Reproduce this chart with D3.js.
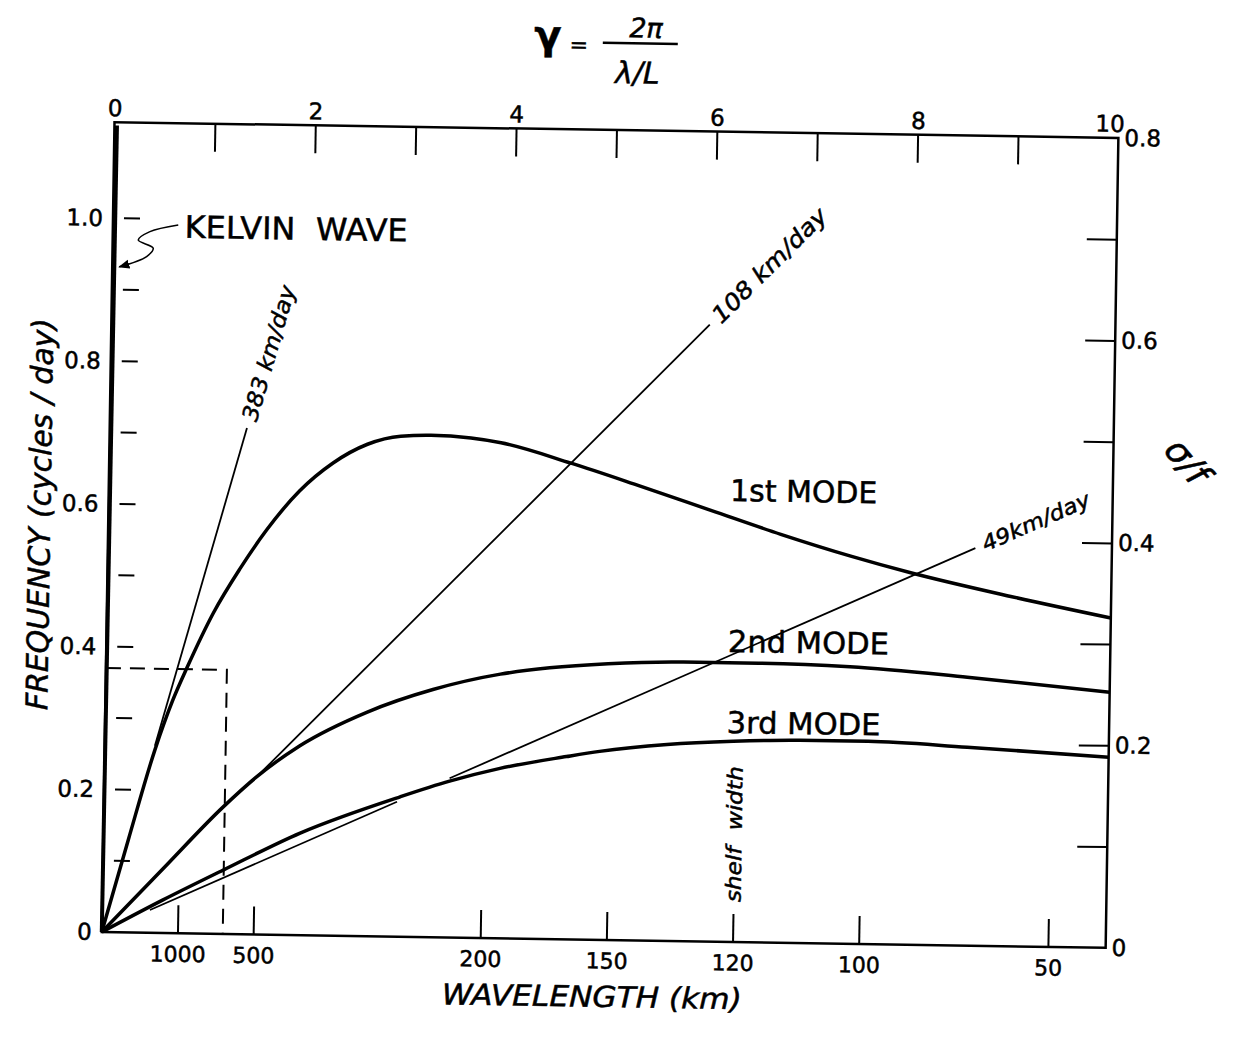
<!DOCTYPE html>
<html>
<head>
<meta charset="utf-8">
<script src="https://cdn.jsdelivr.net/npm/d3@7"></script>
<style>
  body { margin: 0; background: #fff; }
  text { font-family: "DejaVu Sans", sans-serif; fill: #000; stroke: #000; stroke-width: 0.5px; }
</style>
</head>
<body>
<div id="chart"></div>
<script>
// ---- data (gamma = 2pi/(lambda/L), frequency in cycles/day) ----
const gammaTicks = [1, 2, 3, 4, 5, 6, 7, 8, 9];
const gammaLabels = [0, 2, 4, 6, 8, 10];
const freqTicks = [0.1, 0.2, 0.3, 0.4, 0.5, 0.6, 0.7, 0.8, 0.9, 1.0];
const freqLabels = [0, 0.2, 0.4, 0.6, 0.8, 1.0];
const sigmaTicks = [0.1, 0.2, 0.3, 0.4, 0.5, 0.6, 0.7];
const sigmaLabels = [0, 0.2, 0.4, 0.6, 0.8];
const shelfL = 120; // km
const wavelengthTicks = [1000, 500, 200, 150, 120, 100, 80];
const wavelengthLabels = ["1000", "500", "200", "150", "120", "100", "50"];

const kelvin = [[0, 0], [0.025, 1.13]];
const mode1 = [[0, 0], [0.25, 0.13], [0.5, 0.256], [0.67, 0.326], [0.81, 0.373], [1.06, 0.449],
  [1.32, 0.512], [1.58, 0.567], [1.9, 0.622], [2.23, 0.662], [2.57, 0.689], [2.9, 0.701],
  [3.2, 0.703], [3.6, 0.7], [3.9, 0.694], [4.6, 0.667], [5.3, 0.636], [6.0, 0.604],
  [6.7, 0.572], [7.4, 0.543], [8.0, 0.521], [9.0, 0.49], [10, 0.462]];
const mode2 = [[0, 0], [0.6, 0.09], [1.19, 0.178], [1.52, 0.221], [1.94, 0.265], [2.61, 0.314],
  [3.26, 0.347], [3.93, 0.37], [4.42, 0.38], [5.0, 0.387], [5.75, 0.391], [6.5, 0.391],
  [7.41, 0.388], [8.58, 0.376], [10, 0.358]];
const mode3 = [[0, 0], [0.6, 0.046], [1.2, 0.0895], [1.96, 0.143], [2.95, 0.196], [3.44, 0.219],
  [3.94, 0.238], [4.6, 0.256], [4.93, 0.264], [5.6, 0.275], [6.26, 0.281], [6.92, 0.284],
  [7.6, 0.284], [8.59, 0.278], [10, 0.267]];

const speed383 = [[0.5, 0.262], [1.367, 0.709]];
const speed108 = [[1.52, 0.221], [5.96, 0.864]];
const speed49a = [[0.476, 0.032], [2.92, 0.189]];
const speed49b = [[3.44, 0.223], [8.64, 0.557]];

const dashedBox = [[0, 0.37], [1.205, 0.37], [1.205, 0]];
const kelvinArrow = [[0.651, 0.992], [0.37, 0.982], [0.255, 0.97], [0.405, 0.959], [0.341, 0.947], [0.07, 0.932]];

// ---- layout ----
const W = 1239, H = 1037;
const margin = {top: 130, right: 127, bottom: 97, left: 108};
const width = W - margin.left - margin.right;
const height = H - margin.top - margin.bottom;

const svg = d3.select("#chart").append("svg")
    .attr("width", W)
    .attr("height", H);

svg.append("defs").append("marker")
    .attr("id", "arrow")
    .attr("viewBox", "0 0 10 10")
    .attr("refX", 9).attr("refY", 5)
    .attr("markerWidth", 7).attr("markerHeight", 7)
    .attr("orient", "auto")
    .append("path")
    .attr("d", "M0,1 L10,5 L0,9 Z")
    .attr("fill", "#000");

// the scanned figure is tilted slightly
const page = svg.append("g").attr("transform", "rotate(0.9,610,540)");
const vis = page.append("g").attr("transform", `translate(${margin.left},${margin.top})`);

const x = d3.scaleLinear().domain([0, 10]).range([0, width]);
const y = d3.scaleLinear().domain([0, 1.1345]).range([height, 0]);
const ySigma = d3.scaleLinear().domain([0, 0.8]).range([height, 0]);
const gammaOf = lambda => 2 * Math.PI * shelfL / lambda;

const line = d3.line().x(d => x(d[0])).y(d => y(d[1]));
const curve = d3.line().x(d => x(d[0])).y(d => y(d[1])).curve(d3.curveMonotoneX);
const smooth = d3.line().x(d => x(d[0])).y(d => y(d[1])).curve(d3.curveCatmullRom);

// frame
vis.append("rect")
    .attr("width", width).attr("height", height)
    .attr("fill", "none").attr("stroke", "#000").attr("stroke-width", 2.5);

// top axis (gamma)
const topAxis = vis.append("g")
    .call(d3.axisTop(x).tickValues(d3.range(0, 11)).tickSize(-28).tickPadding(6)
        .tickFormat(d => gammaLabels.includes(d) ? d : ""));
topAxis.select(".domain").remove();
topAxis.selectAll(".tick line").attr("stroke-width", 2)
    .filter(d => !gammaTicks.includes(d)).remove();
topAxis.selectAll("text").style("font-size", "23px").style("font-family", "DejaVu Sans")
    .attr("dx", d => d === 10 ? -9 : 0);

// bottom axis (wavelength)
const bottomAxis = vis.append("g")
    .attr("transform", `translate(0,${height})`)
    .call(d3.axisBottom(x).tickValues(wavelengthTicks.map(gammaOf)).tickSize(-28).tickPadding(13)
        .tickFormat((d, i) => wavelengthLabels[i]));
bottomAxis.select(".domain").remove();
bottomAxis.selectAll(".tick line").attr("stroke-width", 2);
bottomAxis.selectAll("text").style("font-size", "22px").style("font-family", "DejaVu Sans");

// left axis (frequency)
const leftAxis = vis.append("g")
    .call(d3.axisLeft(y).tickValues(freqLabels).tickSize(0).tickPadding(10)
        .tickFormat(d => d === 0 ? "0" : d3.format(".1f")(d)));
leftAxis.select(".domain").remove();
leftAxis.selectAll("text").style("font-size", "23px").style("font-family", "DejaVu Sans");

vis.append("g").selectAll("line")
    .data(freqTicks)
    .join("line")
    .attr("x1", 11).attr("x2", 27)
    .attr("y1", d => y(d)).attr("y2", d => y(d))
    .attr("stroke", "#000").attr("stroke-width", 2);

// right axis (sigma/f)
const rightAxis = vis.append("g")
    .attr("transform", `translate(${width},0)`)
    .call(d3.axisRight(ySigma).tickValues(sigmaLabels).tickSize(0).tickPadding(6)
        .tickFormat(d => d === 0 ? "0" : d3.format(".1f")(d)));
rightAxis.select(".domain").remove();
rightAxis.selectAll("text").style("font-size", "23px").style("font-family", "DejaVu Sans");

const rightTicks = vis.append("g")
    .attr("transform", `translate(${width},0)`)
    .call(d3.axisLeft(ySigma).tickValues(sigmaTicks).tickSize(30).tickFormat(""));
rightTicks.select(".domain").remove();
rightTicks.selectAll("line").attr("x2", -30).attr("stroke-width", 2);

// dashed guide
vis.append("path")
    .attr("d", line(dashedBox))
    .attr("fill", "none").attr("stroke", "#000").attr("stroke-width", 2)
    .attr("stroke-dasharray", "15,9");

// group-velocity lines
[speed383, speed108, speed49a, speed49b].forEach(s => {
    vis.append("path")
        .attr("d", line(s))
        .attr("fill", "none").attr("stroke", "#000").attr("stroke-width", 1.8);
});

// dispersion curves
vis.append("path").attr("d", line(kelvin))
    .attr("fill", "none").attr("stroke", "#000").attr("stroke-width", 4);
[mode1, mode2, mode3].forEach(m => {
    vis.append("path").attr("d", curve(m))
        .attr("fill", "none").attr("stroke", "#000").attr("stroke-width", 3.5);
});

// kelvin wave pointer
vis.append("path")
    .attr("d", smooth(kelvinArrow))
    .attr("fill", "none").attr("stroke", "#000").attr("stroke-width", 1.6)
    .attr("marker-end", "url(#arrow)");

vis.append("text")
    .attr("x", x(0.716)).attr("y", y(0.974))
    .attr("textLength", 223).attr("lengthAdjust", "spacingAndGlyphs")
    .style("font-size", "31px").style("word-spacing", "10px")
    .text("KELVIN WAVE");

// mode labels
[["1st MODE", 0.6175, 147], ["2nd MODE", 0.406, 161], ["3rd MODE", 0.2926, 154]].forEach(([t, f, len]) => {
    vis.append("text")
        .attr("x", x(6.19)).attr("y", y(f))
        .attr("textLength", len).attr("lengthAdjust", "spacingAndGlyphs")
        .style("font-size", "30px")
        .text(t);
});

// speed labels placed at the end of each line, aligned to it
[[speed383, "383 km/day", 140, 22], [speed108, "108 km/day", 152, 23], [speed49b, "49km/day", 116, 21]]
    .forEach(([s, t, len, fs]) => {
        const p0 = [x(s[0][0]), y(s[0][1])], p1 = [x(s[1][0]), y(s[1][1])];
        const ang = Math.atan2(p1[1] - p0[1], p1[0] - p0[0]);
        const px = p1[0] + 8 * Math.cos(ang), py = p1[1] + 8 * Math.sin(ang);
        vis.append("text")
            .attr("transform", `translate(${px},${py}) rotate(${ang * 180 / Math.PI})`)
            .attr("dy", "0.35em")
            .attr("textLength", len).attr("lengthAdjust", "spacingAndGlyphs")
            .style("font-size", fs + "px").style("font-style", "italic")
            .text(t);
    });

vis.append("text")
    .attr("transform", `translate(${x(gammaOf(shelfL))},${y(0.151)}) rotate(-90)`)
    .attr("text-anchor", "middle").attr("dy", "0.35em")
    .attr("textLength", 136).attr("lengthAdjust", "spacingAndGlyphs")
    .style("font-size", "21px").style("font-style", "italic").style("word-spacing", "8px")
    .text("shelf width");

// axis titles
page.append("text")
    .attr("transform", `translate(${margin.left - 58},${523}) rotate(-90)`)
    .attr("text-anchor", "middle")
    .attr("textLength", 392).attr("lengthAdjust", "spacingAndGlyphs")
    .style("font-size", "30px").style("font-style", "italic")
    .text("FREQUENCY  (cycles / day)");

page.append("text")
    .attr("x", 599).attr("y", 1007)
    .attr("text-anchor", "middle")
    .attr("textLength", 300).attr("lengthAdjust", "spacingAndGlyphs")
    .style("font-size", "29px").style("font-style", "italic")
    .text("WAVELENGTH (km)");

page.append("text")
    .attr("transform", "translate(1186,452) rotate(50)")
    .attr("text-anchor", "middle").attr("dy", "0.35em")
    .style("font-size", "36px").style("font-style", "italic")
    .text("σ/f");

// top formula  gamma = 2pi / (lambda/L)
page.append("text")
    .attr("x", 540).attr("y", 50).attr("text-anchor", "middle")
    .style("font-size", "40px").style("font-weight", "bold")
    .text("γ");
page.append("text")
    .attr("x", 571).attr("y", 53).attr("text-anchor", "middle")
    .style("font-size", "22px")
    .text("=");
page.append("line")
    .attr("x1", 595).attr("x2", 670).attr("y1", 43).attr("y2", 43)
    .attr("stroke", "#000").attr("stroke-width", 2.5);
page.append("text")
    .attr("x", 638).attr("y", 37).attr("text-anchor", "middle")
    .style("font-size", "27px").style("font-style", "italic")
    .text("2π");
page.append("text")
    .attr("x", 630).attr("y", 83).attr("text-anchor", "middle")
    .style("font-size", "30px").style("font-style", "italic")
    .text("λ/L");
</script>
</body>
</html>
